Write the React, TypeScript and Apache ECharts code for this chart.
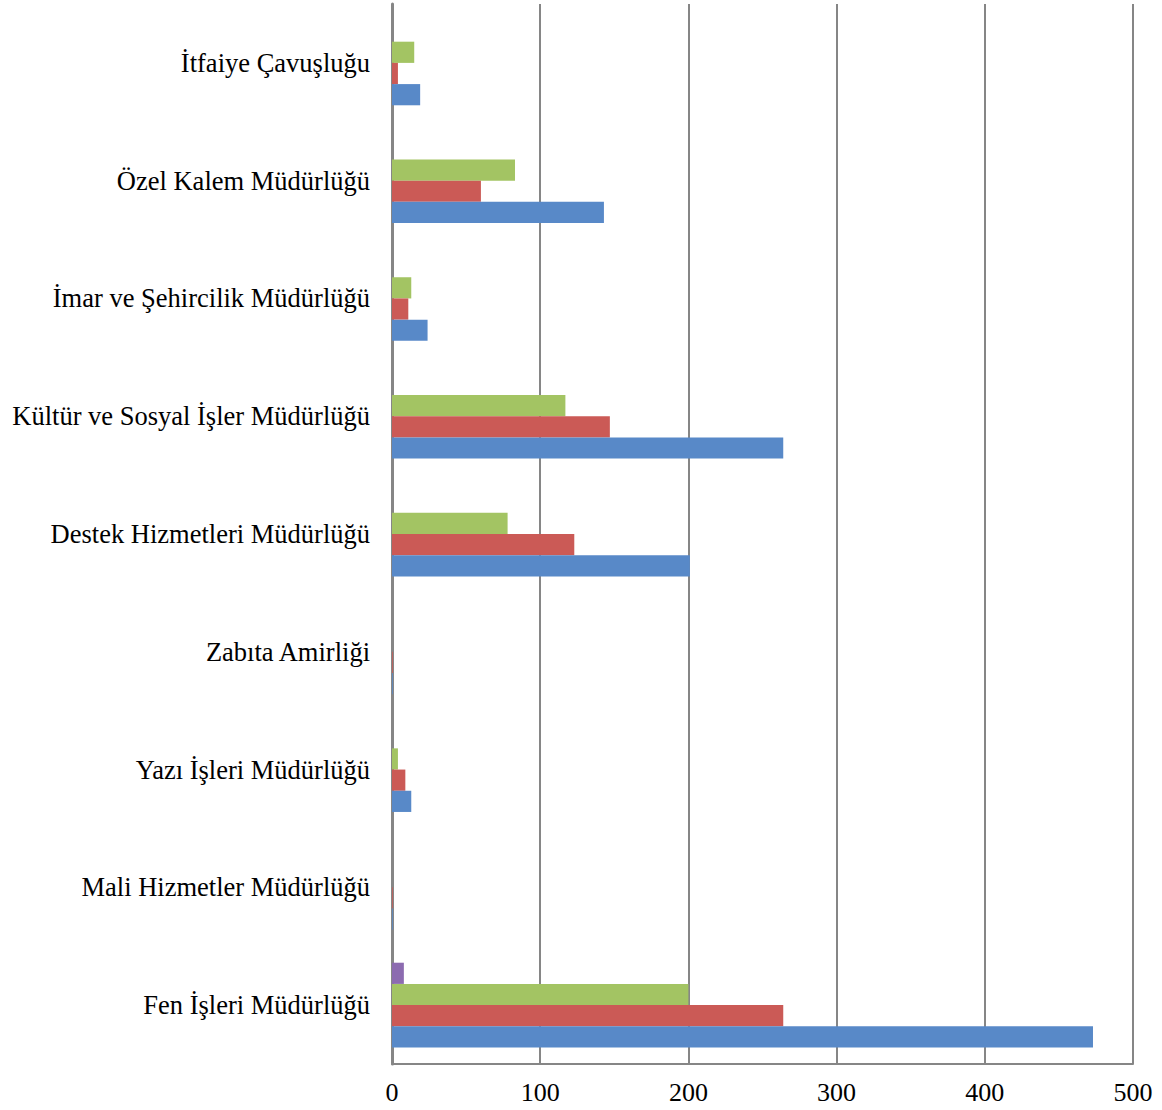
import React, { useEffect, useRef } from "react";
import * as echarts from "echarts";

const categories = [
  "Fen İşleri Müdürlüğü",
  "Mali Hizmetler Müdürlüğü",
  "Yazı İşleri Müdürlüğü",
  "Zabıta Amirliği",
  "Destek Hizmetleri Müdürlüğü",
  "Kültür ve Sosyal İşler Müdürlüğü",
  "İmar ve Şehircilik Müdürlüğü",
  "Özel Kalem Müdürlüğü",
  "İtfaiye Çavuşluğu",
];
const series1 = [473, 0.5, 13, 0.5, 201, 264, 24, 143, 19];
const series2 = [264, 0.5, 9, 0.5, 123, 147, 11, 60, 4];
const series3 = [200, 0, 4, 0, 78, 117, 13, 83, 15];
const series4 = [8, 0, 0, 0, 0, 0, 0, 0, 0];
const xTicks = [0, 100, 200, 300, 400, 500];

const colors = ["#5889C8", "#CB5A56", "#A3C463", "#8C6BB0"];
const FONT = "'Liberation Serif', 'Times New Roman', serif";

export default function App() {
  const ref = useRef<HTMLDivElement>(null);
  useEffect(() => {
    if (!ref.current) return;
    const chart = echarts.init(ref.current, null, { renderer: "svg" });
    const mk = (name: string, data: number[], color: string) => ({
      name,
      type: "bar",
      data,
      barGap: "0%",
      barCategoryGap: "28%",
      itemStyle: { color },
    });
    chart.setOption({
      animation: false,
      grid: { left: 392, top: 4, width: 741, height: 1060, containLabel: false },
      xAxis: {
        type: "value",
        min: xTicks[0],
        max: xTicks[xTicks.length - 1],
        interval: 100,
        axisLine: { show: true, lineStyle: { color: "#868686", width: 2 } },
        axisTick: { show: false },
        axisLabel: { fontFamily: FONT, fontSize: 26, color: "#000", margin: 15 },
        splitLine: { show: true, lineStyle: { color: "#868686", width: 2 } },
      },
      yAxis: {
        type: "category",
        data: categories,
        axisLine: { show: true, lineStyle: { color: "#868686", width: 3 } },
        axisTick: { show: false },
        axisLabel: { fontFamily: FONT, fontSize: 26.5, color: "#000", margin: 22 },
        splitLine: { show: false },
      },
      series: [
        mk("Seri 4", series4, colors[3]),
        mk("Seri 3", series3, colors[2]),
        mk("Seri 2", series2, colors[1]),
        mk("Seri 1", series1, colors[0]),
      ],
    });
    return () => chart.dispose();
  }, []);
  return (
    <div
      ref={ref}
      style={{ position: "absolute", left: 0, top: 0, width: 1162, height: 1110, background: "#fff" }}
    />
  );
}
